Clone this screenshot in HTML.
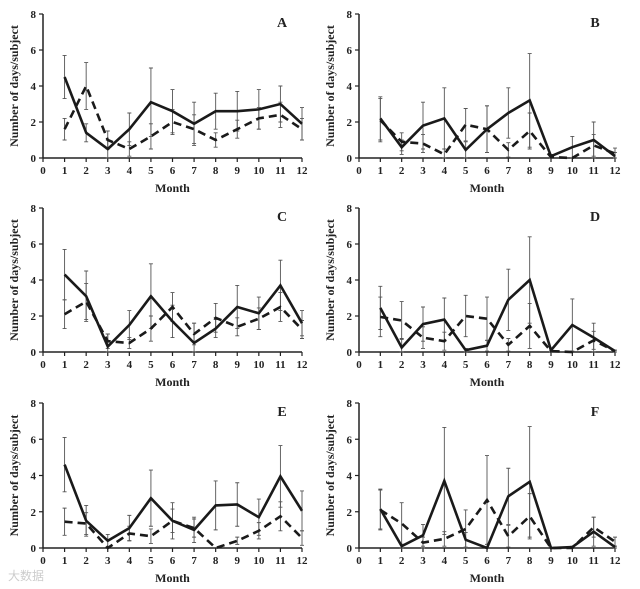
<!DOCTYPE html>
<html><head><meta charset="utf-8">
<style>
html,body{margin:0;padding:0;background:#fff;}
svg{display:block;font-family:"Liberation Serif",serif;}
</style></head>
<body>
<svg id="chart" width="640" height="589" viewBox="0 0 640 589" xmlns="http://www.w3.org/2000/svg"></svg>
<script>
const months = [1,2,3,4,5,6,7,8,9,10,11,12];
const yTicks = [0,2,4,6,8];
const xTicks = [0,1,2,3,4,5,6,7,8,9,10,11,12];
const panelLabels = ["A","B","C","D","E","F"];
const solidA = [4.5,1.4,0.5,1.6,3.1,2.6,1.9,2.6,2.6,2.7,3.0,1.9];
const solidAErr = [1.2,0.5,0.5,0.9,1.9,1.2,1.2,1.0,1.1,1.1,1.0,0.9];
const dashA = [1.6,4.0,1.0,0.5,1.2,2.0,1.6,1.0,1.6,2.2,2.4,1.6];
const dashAErr = [0.6,1.3,0.5,0.4,0.7,0.7,0.8,0.4,0.5,0.6,0.7,0.6];
const solidB = [2.2,0.6,1.8,2.2,0.45,1.6,2.5,3.2,0.1,0.6,1.0,0.1];
const solidBErr = [1.2,0.4,1.3,1.7,0.45,1.3,1.4,2.6,0.1,0.6,1.0,0.2];
const dashB = [2.1,0.9,0.8,0.2,1.85,1.6,0.45,1.5,0.05,0.0,0.7,0.25];
const dashBErr = [1.2,0.5,0.5,0.3,0.9,1.3,0.4,1.0,0.05,0,0.6,0.3];
const solidC = [4.3,3.1,0.3,1.5,3.1,1.7,0.5,1.3,2.5,2.15,3.7,1.6];
const solidCErr = [1.4,1.4,0.7,0.8,1.8,0.9,1.1,0.5,1.2,0.9,1.4,0.7];
const dashC = [2.1,2.8,0.6,0.5,1.3,2.5,1.0,1.9,1.4,1.85,2.5,1.25];
const dashCErr = [0.8,1.0,0.4,0.3,0.7,0.8,0.6,0.8,0.5,0.6,0.8,0.5];
const solidD = [2.45,0.25,1.55,1.8,0.1,0.35,2.9,4.0,0.1,1.5,0.8,0.05];
const solidDErr = [1.2,0.5,0.95,1.2,0.1,0.3,1.7,2.4,0.1,1.45,0.8,0.05];
const dashD = [1.95,1.75,0.8,0.6,2.0,1.85,0.4,1.45,0.05,0.0,0.65,0.05];
const dashDErr = [1.1,1.05,0.6,0.5,1.15,1.2,0.35,1.25,0.05,0,0.5,0.05];
const solidE = [4.6,1.5,0.4,1.1,2.75,1.5,1.0,2.35,2.4,1.7,3.95,2.05];
const solidEErr = [1.5,0.85,0.35,0.7,1.55,1.0,0.7,1.35,1.2,1.0,1.7,1.1];
const dashE = [1.45,1.35,0.0,0.8,0.65,1.5,1.1,0.0,0.4,0.95,1.75,0.55];
const dashEErr = [0.75,0.6,0.0,0.4,0.4,0.65,0.5,0.0,0.2,0.45,0.8,0.4];
const solidF = [2.15,0.1,0.7,3.7,0.45,0.0,2.85,3.65,0.0,0.05,0.9,0.05];
const solidFErr = [1.1,0.1,0.6,2.95,0.4,0,1.55,3.05,0,0.05,0.8,0.05];
const dashF = [2.1,1.35,0.3,0.5,1.05,2.65,0.65,1.75,0.0,0.0,1.15,0.35];
const dashFErr = [1.1,1.15,0.3,0.4,1.05,2.45,0.6,1.25,0,0,0.55,0.25];

const solids=[solidA,solidB,solidC,solidD,solidE,solidF];
const solidErrs=[solidAErr,solidBErr,solidCErr,solidDErr,solidEErr,solidFErr];
const dashes=[dashA,dashB,dashC,dashD,dashE,dashF];
const dashErrs=[dashAErr,dashBErr,dashCErr,dashDErr,dashEErr,dashFErr];

const NS="http://www.w3.org/2000/svg";
const svg=document.getElementById('chart');
function mk(tag,attrs,parent){const e=document.createElementNS(NS,tag);for(const k in attrs)e.setAttribute(k,attrs[k]);parent.appendChild(e);return e;}

const colsX=[[43,302],[359,615]];
const rowsY=[[14,158],[208,352],[403,548]];

for(let p=0;p<6;p++){
  const c=p%2, r=Math.floor(p/2);
  const [x0,x1]=colsX[c],[yt,yb]=rowsY[r];
  const xs=m=>x0+(x1-x0)*m/12;
  const ys=v=>yb-(yb-yt)*v/8;
  const g=mk('g',{},svg);
  
  
  // axes
  const ya=mk('line',{x1:x0,y1:yt,x2:x0,y2:yb,stroke:'#222','stroke-width':1.5},g);
  
  
  const xa=mk('line',{x1:x0,y1:yb,x2:x1,y2:yb,stroke:'#222','stroke-width':1.5},g);
  
  
  yTicks.forEach(t=>{
    mk('line',{x1:x0-4,y1:ys(t),x2:x0,y2:ys(t),stroke:'#222','stroke-width':1.2},g);
    const tx=mk('text',{x:x0-7,y:ys(t)+4,'text-anchor':'end','font-size':11,'font-weight':'bold',fill:'#222'},g);
    tx.textContent=t;
    
    
  });
  xTicks.forEach(t=>{
    mk('line',{x1:xs(t),y1:yb,x2:xs(t),y2:yb+4,stroke:'#222','stroke-width':1.2},g);
    const tx=mk('text',{x:xs(t),y:yb+16,'text-anchor':'middle','font-size':11,'font-weight':'bold',fill:'#222'},g);
    tx.textContent=t;
    
    
  });
  const xt=mk('text',{x:(x0+x1)/2,y:yb+34,'text-anchor':'middle','font-size':12,'font-weight':'bold',fill:'#222'},g);
  xt.textContent='Month';
  
  
  const yl=mk('text',{x:0,y:0,'text-anchor':'middle','font-size':12,'font-weight':'bold',fill:'#222',transform:`translate(${x0-25},${(yt+yb)/2}) rotate(-90)`},g);
  yl.textContent='Number of days/subject';
  
  
  const pl=mk('text',{x:x1-20,y:yt+13,'text-anchor':'middle','font-size':14,'font-weight':'bold',fill:'#222'},g);
  pl.textContent=panelLabels[p];
  
  
  // error bars
  [[solids[p],solidErrs[p]],[dashes[p],dashErrs[p]]].forEach(([vals,errs],si)=>{
    vals.forEach((v,i)=>{
      const e=errs[i]; if(!e) return;
      const x=xs(months[i]);
      const lo=Math.max(0,v-e), hi=v+e;
      const eb=mk('path',{d:`M${x},${ys(lo)}V${ys(hi)}M${x-2},${ys(hi)}H${x+2}M${x-2},${ys(lo)}H${x+2}`,stroke:'#555','stroke-width':0.9,fill:'none'},g);
      
      
    });
  });
  const line=(vals,dash,name)=>{
    const d=vals.map((v,i)=>(i?'L':'M')+xs(months[i]).toFixed(1)+','+ys(v).toFixed(1)).join('');
    const a={d:d,stroke:'#1a1a1a','stroke-width':2.6,fill:'none','stroke-linejoin':'miter'};
    if(dash)a['stroke-dasharray']='8,5';
    const l=mk('path',a,g);
    
    
  };
  line(dashes[p],true,'series-dashed');
  line(solids[p],false,'series-solid');
}
const wm=mk('text',{x:8,y:580,'font-size':12,fill:'#ccc','font-family':'"Liberation Sans","Noto Sans CJK SC",sans-serif'},svg);
wm.textContent='大数据';


</script>
</body></html>
